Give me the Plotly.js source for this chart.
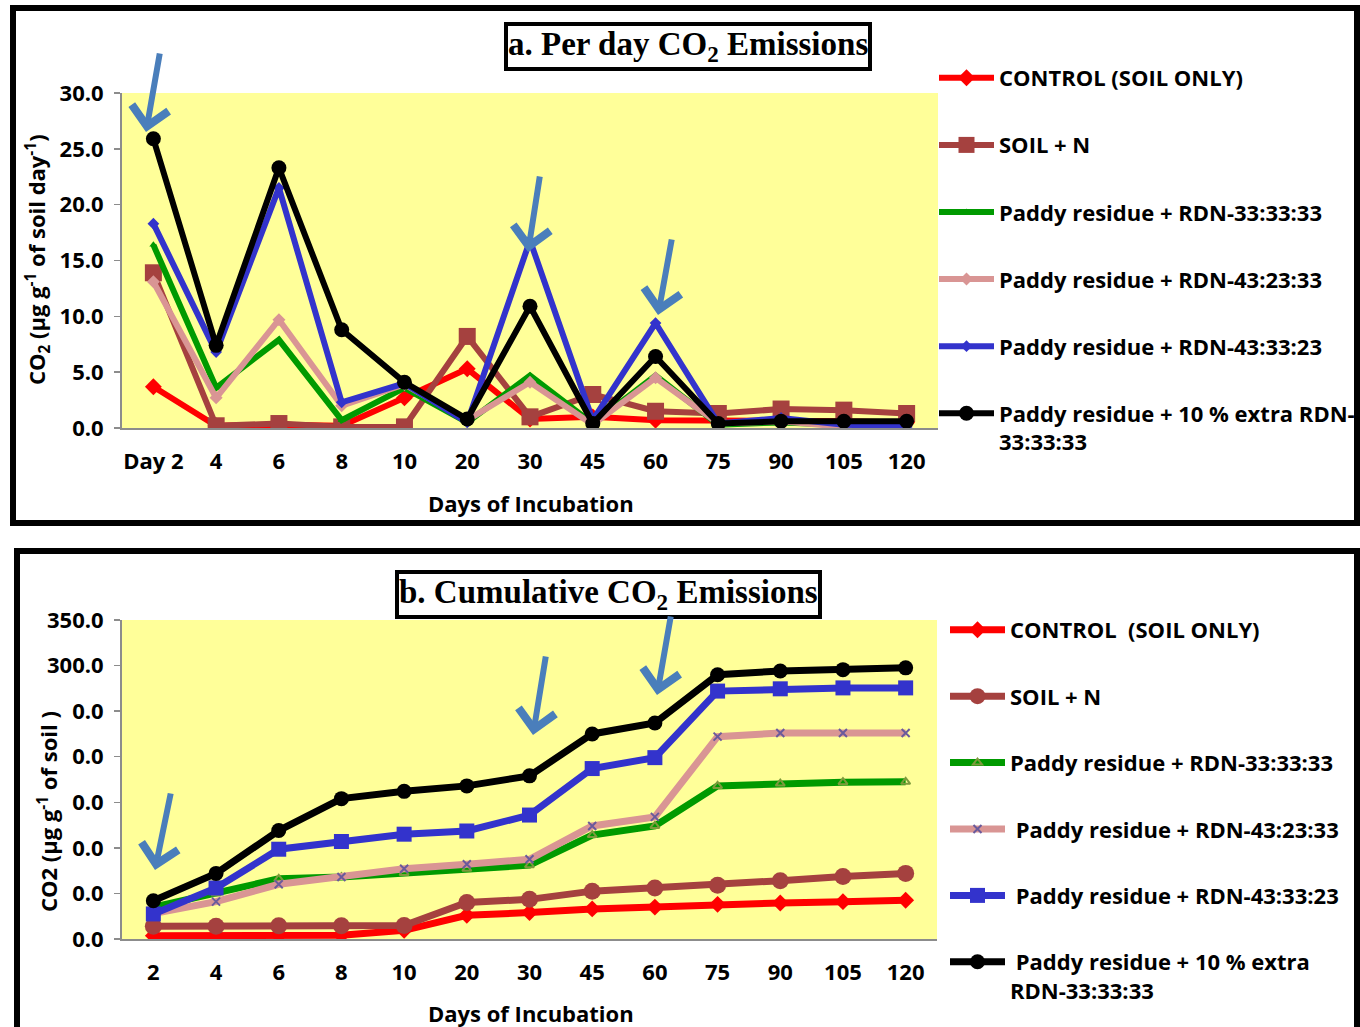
<!DOCTYPE html>
<html>
<head>
<meta charset="utf-8">
<script src="https://cdn.plot.ly/plotly-3.0.1.min.js"></script>
<style>html,body{margin:0;padding:0;background:#fff;}#chart{width:1360px;height:1027px;}</style>
</head>
<body>
<div id="chart"></div>
<script>
// ---- categories ----
const daysA = ["Day 2","4","6","8","10","20","30","45","60","75","90","105","120"];
const daysB = ["2","4","6","8","10","20","30","45","60","75","90","105","120"];

// ---- series names ----
const namesA = ["CONTROL (SOIL ONLY)","SOIL + N","Paddy residue + RDN-33:33:33","Paddy residue + RDN-43:23:33","Paddy residue + RDN-43:33:23","Paddy residue + 10 % extra RDN-<br>33:33:33"];
const namesB = ["CONTROL  (SOIL ONLY)","SOIL + N","Paddy residue + RDN-33:33:33","\u00a0Paddy residue + RDN-43:23:33","\u00a0Paddy residue + RDN-43:33:23","\u00a0Paddy residue + 10 % extra<br>RDN-33:33:33"];

// ---- a. per day CO2 emissions (µg g-1 soil day-1) ----
const controlDay = [3.7, 0.2, 0.3, 0.2, 2.7, 5.3, 0.8, 1.0, 0.7, 0.7, 0.6, 0.6, 0.5];
const soilNDay   = [13.9, 0.2, 0.4, 0.1, 0.1, 8.2, 1.0, 3.0, 1.5, 1.3, 1.7, 1.6, 1.3];
const pr333333Day = [16.4, 3.6, 7.9, 0.7, 3.6, 0.5, 4.7, 0.4, 4.7, 0.3, 0.5, 0.3, 0.3];
const pr432333Day = [13.1, 2.7, 9.7, 2.0, 3.9, 0.7, 4.1, 0.3, 4.5, 0.4, 0.6, 0.1, 0.2];
const pr433323Day = [18.3, 6.8, 21.5, 2.3, 4.0, 0.5, 16.8, 0.7, 9.4, 0.4, 0.9, 0.3, 0.1];
const extra10Day  = [25.9, 7.4, 23.3, 8.8, 4.1, 0.8, 10.9, 0.4, 6.4, 0.4, 0.6, 0.6, 0.6];

// ---- b. cumulative CO2 emissions (µg g-1 soil) ----
const controlCum = [3.6, 3.8, 4.1, 4.2, 9.5, 26, 29, 33, 35, 38, 39.5, 41, 42.5];
const soilNCum   = [13.9, 14.1, 14.5, 14.6, 14.7, 40, 43.5, 52.5, 56, 59, 64, 68.5, 72];
const pr333333Cum = [35, 50, 66, 68, 72.5, 77, 81, 114, 124, 168, 170.5, 172, 172.5];
const pr432333Cum = [28, 41, 60, 68, 77, 82, 87.5, 124, 134, 222, 226, 226, 226];
const pr433323Cum = [27.5, 56, 98.5, 107, 115, 118.5, 136, 187, 199, 272, 274.5, 275.5, 275.5];
const extra10Cum  = [42, 72, 119, 154, 162, 168, 179, 225, 237, 290, 294, 295.5, 297.5];

// ---- tick labels ----
const yTicksB = [0, 50, 100, 150, 200, 250, 300, 350];
const yTickTextB = ["0.0","0.0","0.0","0.0","0.0","0.0","300.0","350.0"];

const W = 1360, H = 1027;
const px = v => v / W;
const py = v => 1 - v / H;

const FONT = "'Open Sans', 'Noto Sans', sans-serif";
const SERIF = "'Liberation Serif', 'DejaVu Serif', serif";
const FS = 22;

const colors = ["#ff0000", "#a5413f", "#009a00", "#d99594", "#3333cc", "#000000"];

const styleA = [
  {symbol: "diamond", size: 13},
  {symbol: "square", size: 17},
  {symbol: "triangle-up", size: 7},
  {symbol: "diamond", size: 10},
  {symbol: "diamond", size: 9},
  {symbol: "circle", size: 15}
];
const styleB = [
  {symbol: "diamond", size: 13, color: colors[0]},
  {symbol: "circle", size: 17, color: colors[1]},
  {symbol: "triangle-up-open", size: 8, color: "#7d9a3c"},
  {symbol: "x-thin-open", size: 8, color: "#6a5a9c"},
  {symbol: "square", size: 15, color: colors[4]},
  {symbol: "circle", size: 15, color: colors[5]}
];

const seriesA = [controlDay, soilNDay, pr333333Day, pr432333Day, pr433323Day, extra10Day];
const seriesB = [controlCum, soilNCum, pr333333Cum, pr432333Cum, pr433323Cum, extra10Cum];

const traces = [];
seriesA.forEach((ys, i) => {
  traces.push({
    type: "scatter", mode: "lines+markers",
    x: daysA, y: ys, name: namesA[i],
    xaxis: "x", yaxis: "y",
    legend: "legend", legendgroup: "a" + i,
    line: {color: colors[i], width: 6},
    marker: {symbol: styleA[i].symbol, size: styleA[i].size, color: colors[i]},
    hoverinfo: "skip"
  });
});
seriesB.forEach((ys, i) => {
  traces.push({
    type: "scatter", mode: "lines+markers",
    x: daysB, y: ys, name: namesB[i],
    xaxis: "x2", yaxis: "y2",
    legend: "legend2", legendgroup: "b" + i,
    line: {color: colors[i], width: 7},
    marker: {symbol: styleB[i].symbol, size: styleB[i].size, color: styleB[i].color,
             line: {color: styleB[i].color, width: (i === 2 || i === 3) ? 2 : 0}},
    hoverinfo: "skip"
  });
});

const tickFont = {family: FONT, size: FS, color: "#000", weight: 700};
const axisCommon = {
  showgrid: false, zeroline: false, showline: true,
  linecolor: "#8c8c8c", linewidth: 2, tickfont: tickFont, fixedrange: true
};

function arrow(hx, hy, tx, ty) {
  return {
    xref: "paper", yref: "paper", x: px(hx), y: py(hy),
    ax: tx - hx, ay: ty - hy, axref: "pixel", ayref: "pixel",
    showarrow: true, arrowhead: 4, arrowsize: 1.2, arrowwidth: 6,
    arrowcolor: "#4a7ebb", text: ""
  };
}

const layout = {
  width: W, height: H,
  margin: {l: 0, r: 0, t: 0, b: 0},
  paper_bgcolor: "#ffffff",
  plot_bgcolor: "#ffff99",
  showlegend: true,
  xaxis: Object.assign({}, axisCommon, {
    domain: [px(122), px(938)], anchor: "y", type: "category", range: [-0.5, 12.5],
    ticks: "outside", ticklen: 13, tickcolor: "rgba(0,0,0,0)"
  }),
  yaxis: Object.assign({}, axisCommon, {
    domain: [py(428), py(93)], anchor: "x",
    range: [0, 30], dtick: 5, tickformat: ".1f",
    ticks: "outside", ticklen: 6, tickcolor: "#8c8c8c", tickwidth: 1.5,
    ticklabelstandoff: 6
  }),
  xaxis2: Object.assign({}, axisCommon, {
    domain: [px(122), px(937)], anchor: "y2", type: "category", range: [-0.5, 12.5],
    ticks: "outside", ticklen: 13, tickcolor: "rgba(0,0,0,0)"
  }),
  yaxis2: Object.assign({}, axisCommon, {
    domain: [py(939), py(620)], anchor: "x2",
    range: [0, 350], tickvals: yTicksB, ticktext: yTickTextB,
    ticks: "outside", ticklen: 6, tickcolor: "#8c8c8c", tickwidth: 1.5,
    ticklabelstandoff: 6
  }),
  legend: {
    x: px(934), y: py(57), xanchor: "left", yanchor: "top",
    font: {family: FONT, size: FS, color: "#000", weight: 700},
    bgcolor: "rgba(0,0,0,0)", borderwidth: 0,
    tracegroupgap: 35.5, itemwidth: 55, valign: "top",
    itemclick: false, itemdoubleclick: false
  },
  legend2: {
    x: px(945), y: py(609), xanchor: "left", yanchor: "top",
    font: {family: FONT, size: FS, color: "#000", weight: 700},
    bgcolor: "rgba(0,0,0,0)", borderwidth: 0,
    tracegroupgap: 34.8, itemwidth: 55, valign: "top",
    itemclick: false, itemdoubleclick: false
  },
  shapes: [
    {type: "rect", xref: "paper", yref: "paper", x0: px(13), x1: px(1357), y0: py(8), y1: py(523),
     line: {color: "#000", width: 6}, fillcolor: "rgba(0,0,0,0)", layer: "below"},
    {type: "rect", xref: "paper", yref: "paper", x0: px(17), x1: px(1357), y0: py(551), y1: py(1040),
     line: {color: "#000", width: 6}, fillcolor: "rgba(0,0,0,0)", layer: "below"}
  ],
  annotations: [
    {xref: "paper", yref: "paper", x: px(688), y: py(46), xanchor: "center", yanchor: "middle",
     text: "a. Per day CO<sub>2</sub> Emissions", showarrow: false,
     font: {family: SERIF, size: 33, color: "#000", weight: 700},
     bgcolor: "#ffffff", bordercolor: "#000", borderwidth: 4, borderpad: 0},
    {xref: "paper", yref: "paper", x: px(608), y: py(594), xanchor: "center", yanchor: "middle",
     text: "b. Cumulative CO<sub>2</sub> Emissions", showarrow: false,
     font: {family: SERIF, size: 33, color: "#000", weight: 700},
     bgcolor: "#ffffff", bordercolor: "#000", borderwidth: 4, borderpad: 0},
    {xref: "paper", yref: "paper", x: px(37), y: py(260), xanchor: "center", yanchor: "middle",
     text: "CO<sub>2</sub> (µg g<sup>-1</sup> of soil day<sup>-1</sup>)", showarrow: false, textangle: -90,
     font: {family: FONT, size: FS, color: "#000", weight: 700}},
    {xref: "paper", yref: "paper", x: px(47), y: py(812), xanchor: "center", yanchor: "middle",
     text: "CO2 (µg g<sup>-1</sup> of soil )", showarrow: false, textangle: -90,
     font: {family: FONT, size: FS, color: "#000", weight: 700}},
    {xref: "paper", yref: "paper", x: px(531), y: py(503), xanchor: "center", yanchor: "middle",
     text: "Days of Incubation", showarrow: false,
     font: {family: FONT, size: FS, color: "#000", weight: 700}},
    {xref: "paper", yref: "paper", x: px(531), y: py(1013), xanchor: "center", yanchor: "middle",
     text: "Days of Incubation", showarrow: false,
     font: {family: FONT, size: FS, color: "#000", weight: 700}},
    arrow(146, 132, 160, 52),
    arrow(528, 252, 540, 175),
    arrow(658, 315, 672, 238),
    arrow(155, 870, 171, 792),
    arrow(533, 735, 546, 655),
    arrow(657, 695, 671, 615)
  ]
};

Plotly.newPlot("chart", traces, layout, {staticPlot: true, displayModeBar: false});
</script>
</body>
</html>
